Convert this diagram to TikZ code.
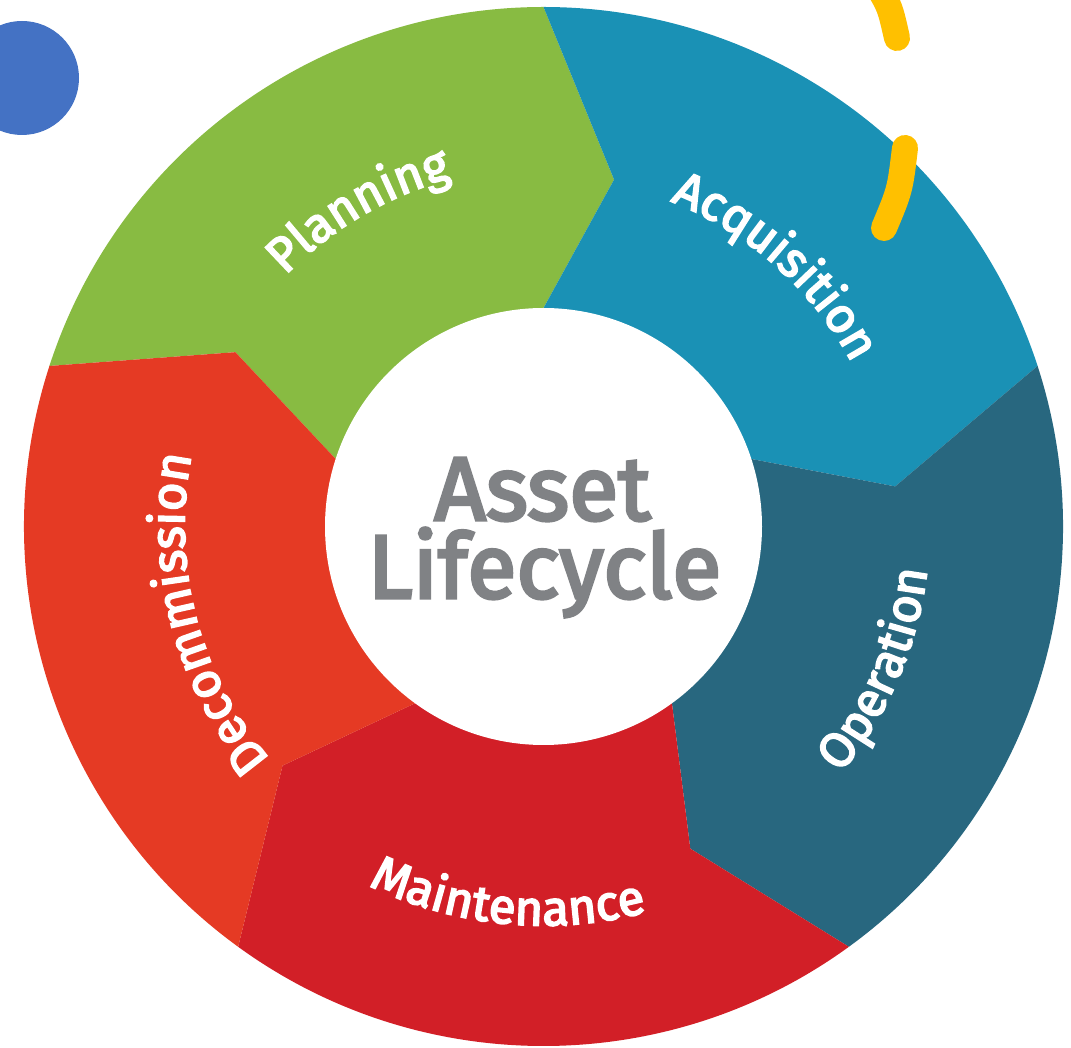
\documentclass[tikz,border=0pt]{standalone}
\usepackage{fontspec}
\setmainfont{Fira Sans}
\newfontfamily\semifont{Fira Sans}[FakeBold=3.5]
\usetikzlibrary{decorations.text}
\definecolor{cplan}{HTML}{88BB42}
\definecolor{cacq}{HTML}{1A91B5}
\definecolor{cop}{HTML}{28677F}
\definecolor{cmain}{HTML}{D21F27}
\definecolor{cdec}{HTML}{E53A24}
\definecolor{ctitle}{HTML}{808285}
\definecolor{cdot}{HTML}{4472C4}
\definecolor{cdash}{HTML}{FFC000}
\newcommand\lblfont{\semifont\fontsize{49}{52}\selectfont}
\newcommand\segment[2]{%
  \fill[#2] (#1:218.5) -- ({#1-11.5}:354) -- (#1:519.5)
    arc[start angle=#1, end angle={#1-72}, radius=519.5]
    -- ({#1-83.5}:354) -- ({#1-72}:218.5) -- (0,0) -- cycle;}
\tikzset{
  yellowdash/.style={cdash, line width=26, line cap=round},
  titletext/.style={anchor=base, inner sep=0, text=ctitle,
    font=\semifont\fontsize{90}{90}\selectfont},
  lbl/.style={decorate, decoration={text along path, text align=center,
    text color=white, text={|\lblfont|#1}}}
}
\begin{document}
\begin{tikzpicture}[x=1pt,y=1pt]
\clip (0,0) rectangle (1071,1047);
\fill[white] (0,0) rectangle (1071,1047);
\fill[cdot] (22,969) circle[radius=57];
\begin{scope}[shift={(543.5,520.5)}]
  \segment{162}{cplan}
  \segment{90}{cacq}
  \segment{18}{cop}
  \segment{-54}{cmain}
  \segment{-126}{cdec}
  \node[circle, fill=white, minimum size=437, inner sep=0] (hub) at (0,0) {};
  \node[titletext] (asset) at (-1,6.5) {Asset};
  \node[titletext] (lifecycle) at (1,-71.5) {Lifecycle};
  % labels
  \path[lbl=Planning] (165.3:360) arc[start angle=165.3, end angle=75.3, radius=360];
  \path[lbl=Acquisition] (93.3:349) arc[start angle=93.3, end angle=3.3, radius=349];
  \path[lbl=Operation] (-68.1:386) arc[start angle=-68.1, end angle=21.9, radius=386];
  \path[lbl=Maintenance] (-140.5:399) arc[start angle=-140.5, end angle=-50.5, radius=399];
  \path[lbl=Decommission] (239.5:359) arc[start angle=239.5, end angle=149.5, radius=359];
\end{scope}
% yellow dashes on top
\draw[yellowdash] (877,1062) .. controls (890,1040) .. (897,1009);
\draw[yellowdash] (905,899) .. controls (900,857) .. (884,819);
\end{tikzpicture}
\end{document}
